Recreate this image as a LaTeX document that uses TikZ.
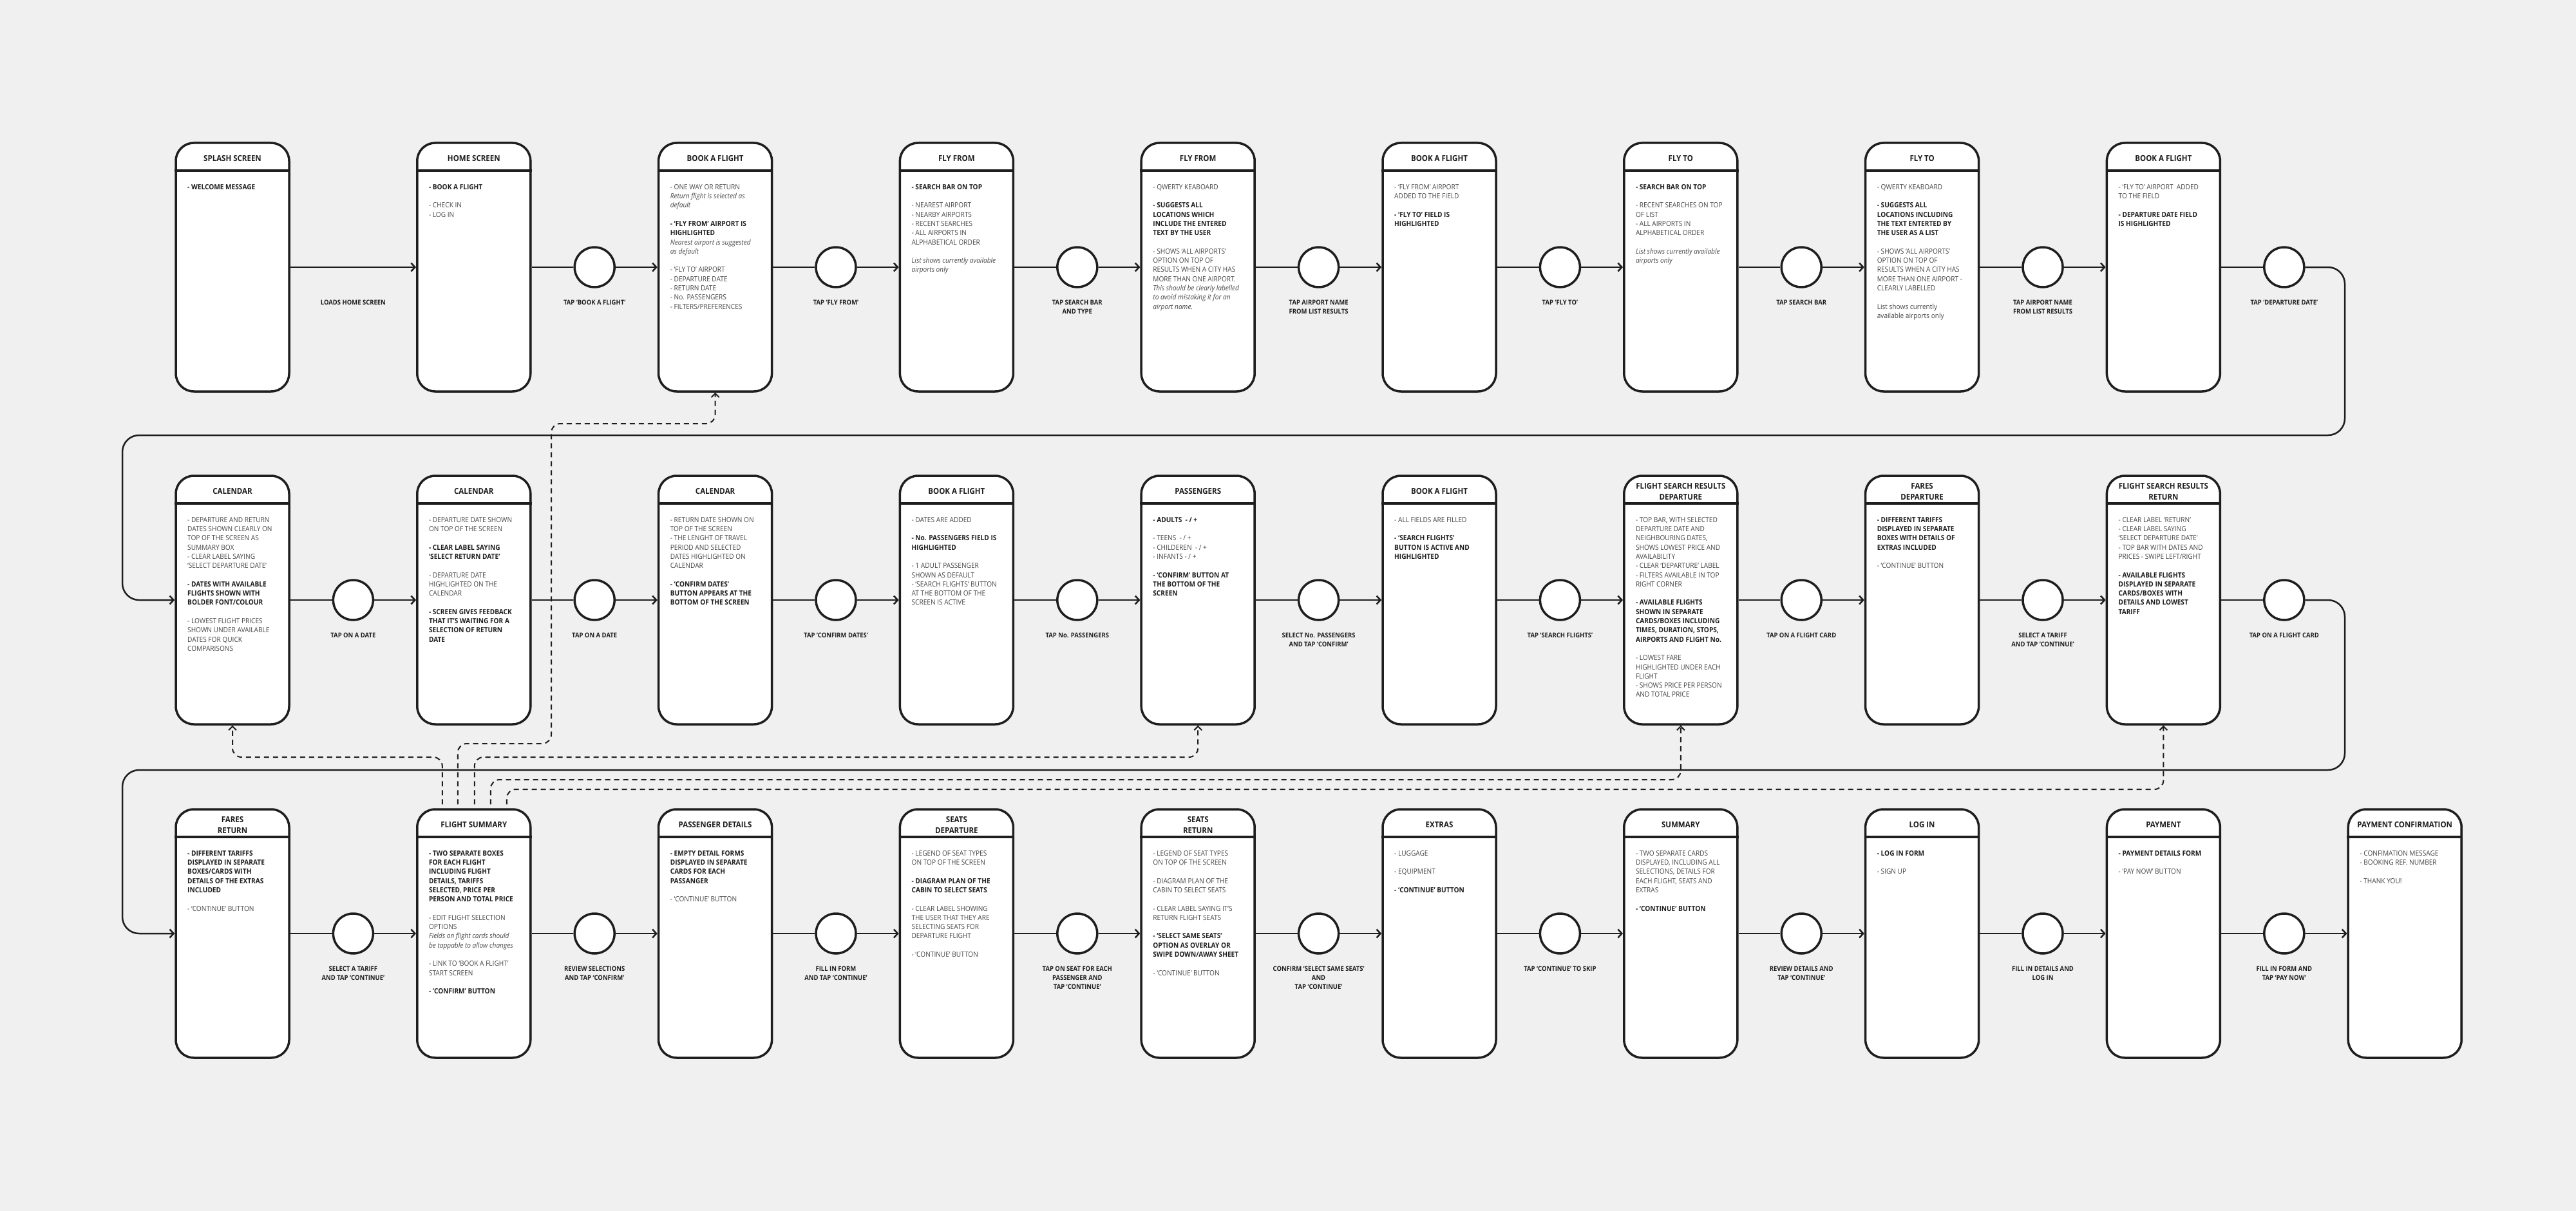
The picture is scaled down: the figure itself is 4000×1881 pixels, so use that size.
\documentclass[tikz,border=0pt]{standalone}
\usepackage{fontspec}
\setmainfont{Open Sans}[FakeStretch=0.92]
\usetikzlibrary{arrows.meta}
\definecolor{bg}{RGB}{240,240,240}
\definecolor{ink}{RGB}{30,30,30}
\definecolor{txt}{RGB}{70,70,70}
\newcommand\bld[1]{{\bfseries\color{ink}#1}}
\newcommand\itl[1]{{\itshape #1}}
\newcommand\gp{\\[14.3pt]}
\tikzset{
 card/.style={draw=ink, line width=3.5pt, fill=white, rounded corners=28pt, minimum width=176pt, minimum height=386pt, inner sep=0pt},
 divider/.style={draw=ink, line width=3.5pt},
 hdr/.style={font=\fontsize{12.5}{16.7}\selectfont\bfseries, text=ink, align=center, inner sep=0pt},
 body/.style={font=\fontsize{11}{14.3}\selectfont, text=txt, align=left, anchor=north west, inner sep=0pt},
 stepc/.style={circle, draw=ink, line width=3.5pt, fill=white, minimum size=62pt, inner sep=0pt},
 lbl/.style={font=\fontsize{10.3}{14.3}\selectfont\bfseries, text=ink, align=center, anchor=north, inner sep=0pt},
 wire/.style={draw=ink, line width=2.5pt},
 flow/.style={wire, -{Straight Barb[length=6pt,width=13pt]}},
 back/.style={draw=ink, line width=2pt, dash pattern=on 8pt off 6pt, rounded corners=14pt, -{Straight Barb[length=6pt,width=12pt]}},
}
\newcommand\mkcard[5]{%
  \node[card] (#1) at ({361+374.8*#2},{#3+193}) {};
  \draw[divider] ([yshift=-44.5pt]#1.north west) -- ([yshift=-44.5pt]#1.north east);
  \node[hdr] (#1h) at ({361+374.8*#2},{#3+24.5}) {#4};
  \node[body] (#1t) at ({291+374.8*#2},{#3+62}) {\strut #5};
}
\newcommand\mkstep[4]{%
  \node[stepc] (#1) at (#2,#3) {};
  \node[lbl] (#1l) at (#2,{#3+48}) {\strut #4};
}
\begin{document}
\begin{tikzpicture}[x=1pt,y=-1pt]
\fill[bg] (0,0) rectangle (4000,1881);
\useasboundingbox (0,0) rectangle (4000,1881);

\coordinate (yA) at (0,1176);
\coordinate (yD) at (0,1211);
\coordinate (yE) at (0,1226);
\coordinate (bB1) at (856,1155);
\coordinate (bB2) at (856,658);

% ---------- row 1 ----------
\mkcard{a1}{0}{222}{SPLASH SCREEN}{\bld{- WELCOME MESSAGE}}
\mkcard{a2}{1}{222}{HOME SCREEN}{\bld{- BOOK A FLIGHT}\gp - CHECK IN\\- LOG IN}
\mkcard{a3}{2}{222}{BOOK A FLIGHT}{- ONE WAY OR RETURN\\\itl{Return flight is selected as}\\\itl{default}\gp\bld{- ‘FLY FROM’ AIRPORT IS}\\\bld{HIGHLIGHTED}\\\itl{Nearest airport is suggested}\\\itl{as default}\gp - ‘FLY TO’ AIRPORT\\- DEPARTURE DATE\\- RETURN DATE\\- No. PASSENGERS\\- FILTERS/PREFERENCES}
\mkcard{a4}{3}{222}{FLY FROM}{\bld{- SEARCH BAR ON TOP}\gp - NEAREST AIRPORT\\- NEARBY AIRPORTS\\- RECENT SEARCHES\\- ALL AIRPORTS IN\\ALPHABETICAL ORDER\gp\itl{List shows currently available}\\\itl{airports only}}
\mkcard{a5}{4}{222}{FLY FROM}{- QWERTY KEABOARD\gp\bld{- SUGGESTS ALL}\\\bld{LOCATIONS WHICH}\\\bld{INCLUDE THE ENTERED}\\\bld{TEXT BY THE USER}\gp - SHOWS ‘ALL AIRPORTS’\\OPTION ON TOP OF\\RESULTS WHEN A CITY HAS\\MORE THAN ONE AIRPORT.\\\itl{This should be clearly labelled}\\\itl{to avoid mistaking it for an}\\\itl{airport name.}}
\mkcard{a6}{5}{222}{BOOK A FLIGHT}{- ‘FLY FROM’ AIRPORT\\ADDED TO THE FIELD\gp\bld{- ‘FLY TO’ FIELD IS}\\\bld{HIGHLIGHTED}}
\mkcard{a7}{6}{222}{FLY TO}{\bld{- SEARCH BAR ON TOP}\gp - RECENT SEARCHES ON TOP\\OF LIST\\- ALL AIRPORTS IN\\ALPHABETICAL ORDER\gp\itl{List shows currently available}\\\itl{airports only}}
\mkcard{a8}{7}{222}{FLY TO}{- QWERTY KEABOARD\gp\bld{- SUGGESTS ALL}\\\bld{LOCATIONS INCLUDING}\\\bld{THE TEXT ENTERTED BY}\\\bld{THE USER AS A LIST}\gp - SHOWS ‘ALL AIRPORTS’\\OPTION ON TOP OF\\RESULTS WHEN A CITY HAS\\MORE THAN ONE AIRPORT -\\CLEARLY LABELLED\gp List shows currently\\available airports only}
\mkcard{a9}{8}{222}{BOOK A FLIGHT}{- ‘FLY TO’ AIRPORT\ \ ADDED\\TO THE FIELD\gp\bld{- DEPARTURE DATE FIELD}\\\bld{IS HIGHLIGHTED}}

\node[lbl] (la1) at (548.4,463) {\strut LOADS HOME SCREEN};
\mkstep{ka2}{923.2}{415}{TAP ‘BOOK A FLIGHT’}
\mkstep{ka3}{1298}{415}{TAP ‘FLY FROM’}
\mkstep{ka4}{1672.8}{415}{TAP SEARCH BAR\\AND TYPE}
\mkstep{ka5}{2047.6}{415}{TAP AIRPORT NAME\\FROM LIST RESULTS}
\mkstep{ka6}{2422.4}{415}{TAP ‘FLY TO’}
\mkstep{ka7}{2797.2}{415}{TAP SEARCH BAR}
\mkstep{ka8}{3172}{415}{TAP AIRPORT NAME\\FROM LIST RESULTS}
\mkstep{ka9}{3546.8}{415}{TAP ‘DEPARTURE DATE’}

% ---------- row 2 ----------
\mkcard{b1}{0}{739}{CALENDAR}{- DEPARTURE AND RETURN\\DATES SHOWN CLEARLY ON\\TOP OF THE SCREEN AS\\SUMMARY BOX\\- CLEAR LABEL SAYING\\‘SELECT DEPARTURE DATE’\gp\bld{- DATES WITH AVAILABLE}\\\bld{FLIGHTS SHOWN WITH}\\\bld{BOLDER FONT/COLOUR}\gp - LOWEST FLIGHT PRICES\\SHOWN UNDER AVAILABLE\\DATES FOR QUICK\\COMPARISONS}
\mkcard{b2}{1}{739}{CALENDAR}{- DEPARTURE DATE SHOWN\\ON TOP OF THE SCREEN\gp\bld{- CLEAR LABEL SAYING}\\\bld{‘SELECT RETURN DATE’}\gp - DEPARTURE DATE\\HIGHLIGHTED ON THE\\CALENDAR\gp\bld{- SCREEN GIVES FEEDBACK}\\\bld{THAT IT’S WAITING FOR A}\\\bld{SELECTION OF RETURN}\\\bld{DATE}}
\mkcard{b3}{2}{739}{CALENDAR}{- RETURN DATE SHOWN ON\\TOP OF THE SCREEN\\- THE LENGHT OF TRAVEL\\PERIOD AND SELECTED\\DATES HIGHLIGHTED ON\\CALENDAR\gp\bld{- ‘CONFIRM DATES’}\\\bld{BUTTON APPEARS AT THE}\\\bld{BOTTOM OF THE SCREEN}}
\mkcard{b4}{3}{739}{BOOK A FLIGHT}{- DATES ARE ADDED\gp\bld{- No. PASSENGERS FIELD IS}\\\bld{HIGHLIGHTED}\gp - 1 ADULT PASSENGER\\SHOWN AS DEFAULT\\- ‘SEARCH FLIGHTS’ BUTTON\\AT THE BOTTOM OF THE\\SCREEN IS ACTIVE}
\mkcard{b5}{4}{739}{PASSENGERS}{\bld{- ADULTS\ \ - / +}\gp - TEENS\ \ - / +\\- CHILDEREN\ \ - / +\\- INFANTS - / +\gp\bld{- ‘CONFIRM’ BUTTON AT}\\\bld{THE BOTTOM OF THE}\\\bld{SCREEN}}
\mkcard{b6}{5}{739}{BOOK A FLIGHT}{- ALL FIELDS ARE FILLED\gp\bld{- ‘SEARCH FLIGHTS’}\\\bld{BUTTON IS ACTIVE AND}\\\bld{HIGHLIGHTED}}
\mkcard{b7}{6}{739}{FLIGHT SEARCH RESULTS\\DEPARTURE}{- TOP BAR, WITH SELECTED\\DEPARTURE DATE AND\\NEIGHBOURING DATES,\\SHOWS LOWEST PRICE AND\\AVAILABILITY\\- CLEAR ‘DEPARTURE’ LABEL\\- FILTERS AVAILABLE IN TOP\\RIGHT CORNER\gp\bld{- AVAILABLE FLIGHTS}\\\bld{SHOWN IN SEPARATE}\\\bld{CARDS/BOXES INCLUDING}\\\bld{TIMES, DURATION, STOPS,}\\\bld{AIRPORTS AND FLIGHT No.}\gp - LOWEST FARE\\HIGHLIGHTED UNDER EACH\\FLIGHT\\- SHOWS PRICE PER PERSON\\AND TOTAL PRICE}
\mkcard{b8}{7}{739}{FARES\\DEPARTURE}{\bld{- DIFFERENT TARIFFS}\\\bld{DISPLAYED IN SEPARATE}\\\bld{BOXES WITH DETAILS OF}\\\bld{EXTRAS INCLUDED}\gp - ‘CONTINUE’ BUTTON}
\mkcard{b9}{8}{739}{FLIGHT SEARCH RESULTS\\RETURN}{- CLEAR LABEL ‘RETURN’\\- CLEAR LABEL SAYING\\‘SELECT DEPARTURE DATE’\\- TOP BAR WITH DATES AND\\PRICES - SWIPE LEFT/RIGHT\gp\bld{- AVAILABLE FLIGHTS}\\\bld{DISPLAYED IN SEPARATE}\\\bld{CARDS/BOXES WITH}\\\bld{DETAILS AND LOWEST}\\\bld{TARIFF}}

\mkstep{kb1}{548.4}{932}{TAP ON A DATE}
\mkstep{kb2}{923.2}{932}{TAP ON A DATE}
\mkstep{kb3}{1298}{932}{TAP ‘CONFIRM DATES’}
\mkstep{kb4}{1672.8}{932}{TAP No. PASSENGERS}
\mkstep{kb5}{2047.6}{932}{SELECT No. PASSENGERS\\AND TAP ‘CONFIRM’}
\mkstep{kb6}{2422.4}{932}{TAP ‘SEARCH FLIGHTS’}
\mkstep{kb7}{2797.2}{932}{TAP ON A FLIGHT CARD}
\mkstep{kb8}{3172}{932}{SELECT A TARIFF\\AND TAP ‘CONTINUE’}
\mkstep{kb9}{3546.8}{932}{TAP ON A FLIGHT CARD}

% ---------- row 3 ----------
\mkcard{c1}{0}{1257}{FARES\\RETURN}{\bld{- DIFFERENT TARIFFS}\\\bld{DISPLAYED IN SEPARATE}\\\bld{BOXES/CARDS WITH}\\\bld{DETAILS OF THE EXTRAS}\\\bld{INCLUDED}\gp - ‘CONTINUE’ BUTTON}
\mkcard{c2}{1}{1257}{FLIGHT SUMMARY}{\bld{- TWO SEPARATE BOXES}\\\bld{FOR EACH FLIGHT}\\\bld{INCLUDING FLIGHT}\\\bld{DETAILS, TARIFFS}\\\bld{SELECTED, PRICE PER}\\\bld{PERSON AND TOTAL PRICE}\gp - EDIT FLIGHT SELECTION\\OPTIONS\\\itl{Fields on flight cards should}\\\itl{be tappable to allow changes}\gp - LINK TO ‘BOOK A FLIGHT’\\START SCREEN\gp\bld{- ‘CONFIRM’ BUTTON}}
\mkcard{c3}{2}{1257}{PASSENGER DETAILS}{\bld{- EMPTY DETAIL FORMS}\\\bld{DISPLAYED IN SEPARATE}\\\bld{CARDS FOR EACH}\\\bld{PASSANGER}\gp - ‘CONTINUE’ BUTTON}
\mkcard{c4}{3}{1257}{SEATS\\DEPARTURE}{- LEGEND OF SEAT TYPES\\ON TOP OF THE SCREEN\gp\bld{- DIAGRAM PLAN OF THE}\\\bld{CABIN TO SELECT SEATS}\gp - CLEAR LABEL SHOWING\\THE USER THAT THEY ARE\\SELECTING SEATS FOR\\DEPARTURE FLIGHT\gp - ‘CONTINUE’ BUTTON}
\mkcard{c5}{4}{1257}{SEATS\\RETURN}{- LEGEND OF SEAT TYPES\\ON TOP OF THE SCREEN\gp - DIAGRAM PLAN OF THE\\CABIN TO SELECT SEATS\gp - CLEAR LABEL SAYING IT’S\\RETURN FLIGHT SEATS\gp\bld{- ‘SELECT SAME SEATS’}\\\bld{OPTION AS OVERLAY OR}\\\bld{SWIPE DOWN/AWAY SHEET}\gp - ‘CONTINUE’ BUTTON}
\mkcard{c6}{5}{1257}{EXTRAS}{- LUGGAGE\gp - EQUIPMENT\gp\bld{- ‘CONTINUE’ BUTTON}}
\mkcard{c7}{6}{1257}{SUMMARY}{- TWO SEPARATE CARDS\\DISPLAYED, INCLUDING ALL\\SELECTIONS, DETAILS FOR\\EACH FLIGHT, SEATS AND\\EXTRAS\gp\bld{- ‘CONTINUE’ BUTTON}}
\mkcard{c8}{7}{1257}{LOG IN}{\bld{- LOG IN FORM}\gp - SIGN UP}
\mkcard{c9}{8}{1257}{PAYMENT}{\bld{- PAYMENT DETAILS FORM}\gp - ‘PAY NOW’ BUTTON}
\mkcard{c10}{9}{1257}{PAYMENT CONFIRMATION}{- CONFIMATION MESSAGE\\- BOOKING REF. NUMBER\gp - THANK YOU!}

\mkstep{kc1}{548.4}{1450}{SELECT A TARIFF\\AND TAP ‘CONTINUE’}
\mkstep{kc2}{923.2}{1450}{REVIEW SELECTIONS\\AND TAP ‘CONFIRM’}
\mkstep{kc3}{1298}{1450}{FILL IN FORM\\AND TAP ‘CONTINUE’}
\mkstep{kc4}{1672.8}{1450}{TAP ON SEAT FOR EACH\\PASSENGER AND\\TAP ‘CONTINUE’}
\mkstep{kc5}{2047.6}{1450}{CONFIRM ‘SELECT SAME SEATS’\\AND\\TAP ‘CONTINUE’}
\mkstep{kc6}{2422.4}{1450}{TAP ‘CONTINUE’ TO SKIP}
\mkstep{kc7}{2797.2}{1450}{REVIEW DETAILS AND\\TAP ‘CONTINUE’}
\mkstep{kc8}{3172}{1450}{FILL IN DETAILS AND\\LOG IN}
\mkstep{kc9}{3546.8}{1450}{FILL IN FORM AND\\TAP ‘PAY NOW’}

% ---------- connectors ----------
\draw[flow] (a1.east) -- (a2.west);
\foreach \i [evaluate=\i as \j using int(\i+1)] in {2,...,8} {
  \draw[wire] (a\i.east) -- (ka\i.west);
  \draw[flow] (ka\i.east) -- (a\j.west);
}
\draw[wire] (a9.east) -- (ka9.west);
\foreach \i [evaluate=\i as \j using int(\i+1)] in {1,...,8} {
  \draw[wire] (b\i.east) -- (kb\i.west);
  \draw[flow] (kb\i.east) -- (b\j.west);
}
\draw[wire] (b9.east) -- (kb9.west);
\foreach \i [evaluate=\i as \j using int(\i+1)] in {1,...,9} {
  \draw[wire] (c\i.east) -- (kc\i.west);
  \draw[flow] (kc\i.east) -- (c\j.west);
}

\coordinate (ra1) at (3641,676);
\coordinate (ra2) at (190,932);
\draw[flow, rounded corners=26pt] (ka9.east) -| (ra1) -| (ra2) -- (b1.west);
\coordinate (rb1) at (3641,1196);
\coordinate (rb2) at (190,1450);
\draw[flow, rounded corners=26pt] (kb9.east) -| (rb1) -| (rb2) -- (c1.west);

% dashed links from flight summary
\draw[back] ([xshift=-49pt,yshift=6pt]c2.north) |- (b1.south |- yA) -- (b1.south);
\draw[back] ([xshift=-25pt,yshift=6pt]c2.north) |- (bB1) -- (bB2) -| (a3.south);
\draw[back] ([xshift=1pt,yshift=6pt]c2.north) |- (b5.south |- yA) -- (b5.south);
\draw[back] ([xshift=26pt,yshift=6pt]c2.north) |- (b7.south |- yD) -- (b7.south);
\draw[back] ([xshift=51pt,yshift=6pt]c2.north) |- (b9.south |- yE) -- (b9.south);
\end{tikzpicture}
\end{document}
